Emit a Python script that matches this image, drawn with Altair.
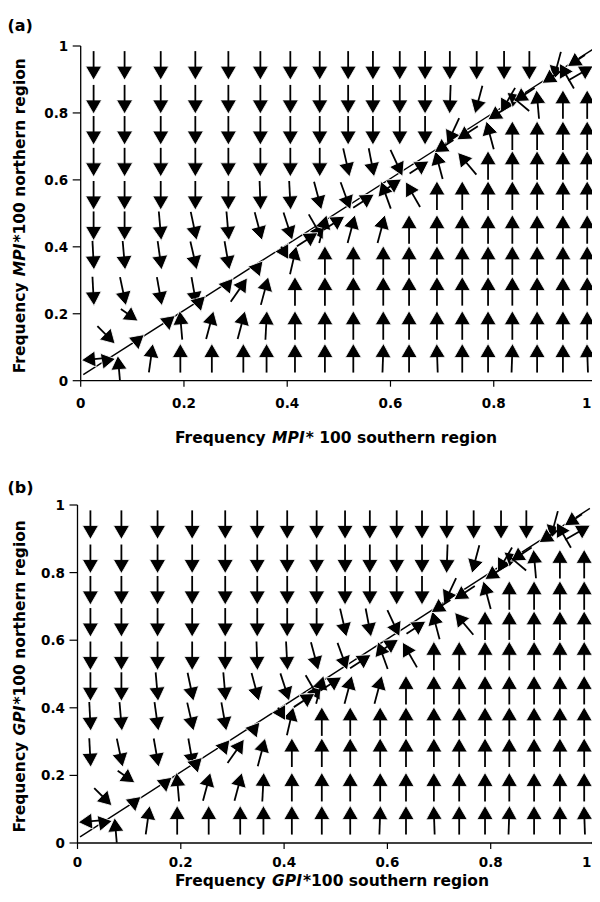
import math
import altair as alt
import pandas as pd

# ---------------- data ----------------
TICKS = [0, 0.2, 0.4, 0.6, 0.8, 1]
TICK_LABELS = ["0", "0.2", "0.4", "0.6", "0.8", "1"]

# columns of the (mostly) downward arrows in the upper-left half
TOP_COLS = [0.025, 0.085, 0.155, 0.222, 0.286, 0.348, 0.406, 0.463, 0.518,
            0.566, 0.618, 0.667, 0.715, 0.767, 0.820, 0.869, 0.919]
# head (triangle centre) height of each row of downward arrows
DOWN_Y = [0.919, 0.818, 0.725, 0.63, 0.531, 0.44, 0.352, 0.245]
# direction (degrees clockwise from "up") of each downward arrow, from the left
DOWN_ANG = [
    [180, 180, 180, 180, 180, 180, 180, 180, 180, 180, 180, 180, 180, 180, 180, 180, 195],
    [180, 180, 180, 180, 180, 180, 180, 180, 180, 180, 180, 180, 182, 195, 210],
    [180, 180, 180, 180, 180, 180, 180, 180, 180, 180, 180, 180, 205],
    [180, 180, 180, 180, 180, 180, 180, 180, 167, 169, 155],
    [180, 180, 180, 180, 180, 178, 177, 165, 160],
    [180, 180, 175, 168, 175, 165, 162, 150],
    [177, 175, 172, 167, 170],
    [177, 168, 170, 170],
]

# columns of the (mostly) upward arrows in the lower-right half
BOT_COLS = [0.073, 0.138, 0.193, 0.254, 0.315, 0.36, 0.415, 0.473, 0.528,
            0.586, 0.636, 0.69, 0.739, 0.789, 0.836, 0.884, 0.934, 0.981]
UP_Y = [0.09, 0.188, 0.29, 0.382, 0.475, 0.576, 0.666, 0.755, 0.848, 0.93]
# direction of each upward arrow, listed so that each row ends at the right edge
UP_ANG = [
    [8, 0, 0, 0, 0, 0, 0, 0, 2, 0, 358, 0, 0, 2, 0, 0, 358],
    [355, 15, 15, 3, 0, 0, 0, 0, 0, 0, 0, 0, 0, 0, 0, 0],
    [35, 15, 0, 0, 0, 0, 0, 0, 0, 0, 0, 0, 0, 0],
    [13, 0, 0, 0, 0, 0, 0, 0, 0, 0, 0, 0],
    [15, 15, 15, 0, 0, 0, 0, 0, 0, 0, 0],
    [340, 330, 0, 0, 0, 0, 0, 0, 0],
    [345, 320, 0, 0, 0, 0, 0],
    [345, 0, 0, 0, 0],
    [310, 355, 0, 0],
    [330, 60],
]

# arrows sitting on / next to the diagonal (head x, head y, direction, shaft px)
EXTRA_X = [0.015, 0.048, 0.073, 0.057, 0.10, 0.11, 0.17, 0.23, 0.285, 0.343, 0.396,
           0.448, 0.50, 0.557, 0.61, 0.663, 0.696, 0.74, 0.80, 0.85, 0.905, 0.954]
EXTRA_Y = [0.063, 0.054, 0.054, 0.125, 0.19, 0.113, 0.17, 0.227, 0.278, 0.33, 0.38,
           0.431, 0.48, 0.546, 0.591, 0.645, 0.693, 0.731, 0.791, 0.845, 0.90, 0.95]
EXTRA_ANG = [265, 200, 355, 135, 125, 170, 170, 165, 160, 160, 150,
             57, 57, 57, 57, 57, 237, 237, 237, 237, 237, 237]
EXTRA_LEN = [16, 6, 18, 18, 14, 6, 6, 6, 6, 6, 8,
             18, 18, 18, 18, 16, 16, 18, 18, 18, 18, 14]

DIAG_X = [0.005, 0.992]
DIAG_Y = [0.018, 0.990]

# ---------------- layout (pixels inside the canvas, page x/y minus 8) ----------------
CW, CH = 584, 881
SHAFT = 22          # head centre to tail, px
FONT = "DejaVu Sans"
LAB = 13.5          # tick label size
TS = 15.5           # title size

PANEL_A = dict(x0=72.7, x1=589.0, y0=372.7, y1=38.0, letter="(a)", letter_y=22.7,
               abbr="MPI", xrest="* 100 southern region", xlab_y=399.8, xt_y=435.0)
PANEL_B = dict(x0=69.5, x1=586.0, y0=835.0, y1=497.0, letter="(b)", letter_y=484.5,
               abbr="GPI", xrest="*100 southern region", xlab_y=859.1, xt_y=877.5)
YREST = "*100 northern region"
XT_LEFT = 167       # left end of the x titles
YT_X = 16.6         # baseline of the rotated y titles

ADV = {" ": .348, "*": .5, "0": .696, "1": .696, "F": .683, "G": .821, "I": .372,
       "M": .995, "P": .733, "c": .593, "e": .678, "g": .716, "h": .712, "i": .343,
       "n": .712, "o": .687, "q": .716, "r": .493, "s": .595, "t": .478, "u": .712,
       "y": .652}


def tw(s, size):
    return sum(ADV.get(c, .6) for c in s) * size


def field(pw, ph):
    rows = []
    for j, angs in enumerate(DOWN_ANG):
        for i, a in enumerate(angs):
            rows.append((TOP_COLS[i], DOWN_Y[j], a, SHAFT))
    for j, angs in enumerate(UP_ANG):
        cols = BOT_COLS[len(BOT_COLS) - len(angs):]
        for i, a in enumerate(angs):
            rows.append((cols[i], UP_Y[j], a, SHAFT))
    for x, y, a, l in zip(EXTRA_X, EXTRA_Y, EXTRA_ANG, EXTRA_LEN):
        rows.append((x, y, a, l))
    df = pd.DataFrame(rows, columns=["x", "y", "ang", "len"])
    rad = df["ang"].map(math.radians)
    df["x2"] = df["x"] - df["len"] * rad.map(math.sin) / pw
    df["y2"] = df["y"] - df["len"] * rad.map(math.cos) / ph
    return df


ONE = pd.DataFrame({"k": [0]})


def txt(s, x, y, size, italic=False, angle=0, align="left"):
    kw = dict(text=s, font=FONT, fontSize=size, fontWeight="bold",
              fontStyle="italic" if italic else "normal", align=align,
              baseline="alphabetic", color="black")
    if angle:
        kw["angle"] = angle
    return alt.Chart(ONE).mark_text(**kw).encode(x=alt.value(x), y=alt.value(y))


def panel_layers(p):
    pw, ph = p["x1"] - p["x0"], p["y0"] - p["y1"]
    xs = alt.Scale(domain=[-p["x0"] / pw, (CW - p["x0"]) / pw], nice=False, zero=False)
    ys = alt.Scale(domain=[-(CH - p["y0"]) / ph, 1 + p["y1"] / ph], nice=False, zero=False)
    X = lambda f: alt.X(f, scale=xs, axis=None)
    Y = lambda f: alt.Y(f, scale=ys, axis=None)
    df = field(pw, ph)
    ticks = pd.DataFrame({"t": TICKS, "lab": TICK_LABELS})
    inner = ticks[ticks["t"] < 1]
    last = ticks[ticks["t"] == 1]
    L = []
    # axis lines
    dom = pd.DataFrame({"x": [0, 0], "x2": [1, 0], "y": [0, 0], "y2": [0, 1]})
    L.append(alt.Chart(dom).mark_rule(color="black", strokeWidth=1.3).encode(
        x=X("x:Q"), x2="x2:Q", y=Y("y:Q"), y2="y2:Q"))
    # ticks
    L.append(alt.Chart(ticks).mark_rule(color="black", strokeWidth=1.2).encode(
        x=X("t:Q"), y=alt.value(p["y0"]), y2=alt.value(p["y0"] + 6)))
    L.append(alt.Chart(ticks).mark_rule(color="black", strokeWidth=1.2).encode(
        y=Y("t:Q"), x=alt.value(p["x0"] - 8), x2=alt.value(p["x0"])))
    # tick labels (the last x label sits against the page edge)
    lab_style = dict(font=FONT, fontSize=LAB, fontWeight="bold", color="black",
                     baseline="alphabetic")
    L.append(alt.Chart(inner).mark_text(align="center", **lab_style).encode(
        x=X("t:Q"), y=alt.value(p["xlab_y"]), text="lab:N"))
    L.append(alt.Chart(last).mark_text(align="right", **lab_style).encode(
        x=alt.value(CW - 0.5), y=alt.value(p["xlab_y"]), text="lab:N"))
    L.append(alt.Chart(ticks).mark_text(align="right", dy=4.9, **lab_style).encode(
        y=Y("t:Q"), x=alt.value(p["x0"] - 12.5), text="lab:N"))
    # diagonal
    L.append(alt.Chart(pd.DataFrame({"x": DIAG_X, "y": DIAG_Y})).mark_line(
        color="black", strokeWidth=1.4).encode(x=X("x:Q"), y=Y("y:Q")))
    # arrows: heads then shafts
    L.append(alt.Chart(df).mark_point(shape="triangle-up", filled=True, fill="black",
                                      stroke="white", strokeWidth=0.8, size=260,
                                      opacity=1).encode(
        x=X("x:Q"), y=Y("y:Q"), angle=alt.Angle("ang:Q", scale=None)))
    L.append(alt.Chart(df).mark_rule(color="black", strokeWidth=1.8).encode(
        x=X("x:Q"), y=Y("y:Q"), x2="x2:Q", y2="y2:Q"))
    # corner dot
    L.append(alt.Chart(pd.DataFrame({"x": [1], "y": [0]})).mark_point(
        filled=True, color="black", size=22, opacity=1).encode(x=X("x:Q"), y=Y("y:Q")))
    # x title
    p1, p2, p3 = "Frequency ", p["abbr"], p["xrest"]
    w1, w2 = tw(p1, TS), tw(p2, TS)
    L += [txt(p1, XT_LEFT, p["xt_y"], TS),
          txt(p2, XT_LEFT + w1, p["xt_y"], TS, italic=True),
          txt(p3, XT_LEFT + w1 + w2 + 1, p["xt_y"], TS)]
    # y title (rotated, reading upwards)
    v1, v2, v3 = tw(p1, TS), tw(p2, TS), tw(YREST, TS)
    yb = (p["y0"] + p["y1"]) / 2 + (v1 + v2 + v3) / 2 + 3
    L += [txt(p1, YT_X, yb, TS, angle=270),
          txt(p2, YT_X, yb - v1, TS, italic=True, angle=270),
          txt(YREST, YT_X, yb - v1 - v2 - 1, TS, angle=270)]
    # panel letter
    L.append(txt(p["letter"], -0.5, p["letter_y"], 16))
    return L


layers = panel_layers(PANEL_A) + panel_layers(PANEL_B)
chart = alt.layer(*layers).resolve_scale(x="independent", y="independent").properties(
    width=CW, height=CH, autosize=alt.AutoSizeParams(type="none"), padding=0
).configure_view(stroke=None)

chart.save("out.html", embed_options={"renderer": "svg", "actions": False})
